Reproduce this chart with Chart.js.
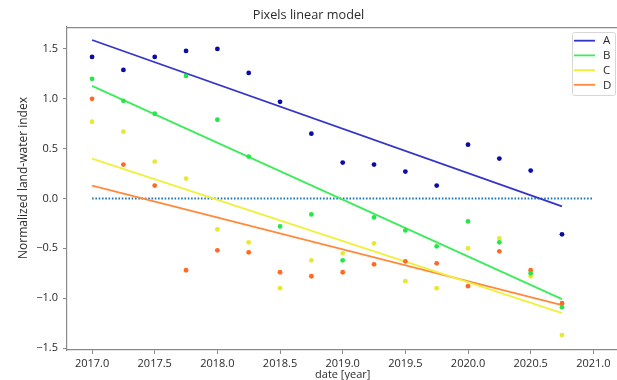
<!DOCTYPE html>
<html>
<head>
<meta charset="utf-8">
<script src="https://cdn.jsdelivr.net/npm/chart.js@4/dist/chart.umd.min.js"></script>
<style>
html,body{margin:0;padding:0;background:#fff;}
#wrap{width:617px;height:380px;}
</style>
</head>
<body>
<div id="wrap"><canvas id="c" width="617" height="380"></canvas></div>
<script>
// ---- data ----
const dates = [2017.0, 2017.25, 2017.5, 2017.75, 2018.0, 2018.25, 2018.5, 2018.75,
               2019.0, 2019.25, 2019.5, 2019.75, 2020.0, 2020.25, 2020.5, 2020.75];
const seriesA = [1.42, 1.29, 1.42, 1.48, 1.50, 1.26, 0.97, 0.65, 0.36, 0.34, 0.27, 0.13, 0.54, 0.40, 0.28, -0.36];
const seriesB = [1.20, 0.98, 0.85, 1.23, 0.79, 0.42, -0.28, -0.16, -0.62, -0.19, -0.32, -0.48, -0.23, -0.44, -0.75, -1.09];
const seriesC = [0.77, 0.67, 0.37, 0.20, -0.31, -0.44, -0.90, -0.62, -0.55, -0.45, -0.83, -0.90, -0.50, -0.40, -0.78, -1.37];
const seriesD = [1.00, 0.34, 0.13, -0.72, -0.52, -0.54, -0.74, -0.78, -0.74, -0.66, -0.63, -0.65, -0.88, -0.53, -0.72, -1.05];
const seriesNames = ['A', 'B', 'C', 'D'];
const fitX = [2017.0, 2020.75];
const fitA = [1.59, -0.08];
const fitB = [1.13, -1.01];
const fitC = [0.40, -1.15];
const fitD = [0.13, -1.07];
const zeroX = [2017.0, 2021.0];
const zeroY = [0, 0];
const xTicks = [2017.0, 2017.5, 2018.0, 2018.5, 2019.0, 2019.5, 2020.0, 2020.5, 2021.0];
const yTicks = [-1.5, -1.0, -0.5, 0.0, 0.5, 1.0, 1.5];
const titleText = 'Pixels linear model';
const xTitle = 'date [year]';
const yTitle = 'Normalized land-water index';

// ---- styles ----
const lineColors = ['#3434c8', '#3cec5a', '#f0f03c', '#ff8a3e'];
const dotColors = ['#0b0ba6', '#26e648', '#e8e830', '#ff6a22'];
const FONT = "'Open Sans', 'DejaVu Sans', sans-serif";
const TXT = '#2a2a2a';
const SPINE = '#8a8a8a';
const PLOT_RIGHT = 618.4;

const pts = (xs, ys) => xs.map((x, i) => ({x: x, y: ys[i]}));
const allSeries = [seriesA, seriesB, seriesC, seriesD];
const allFits = [fitA, fitB, fitC, fitD];

const datasets = [];
allFits.forEach((f, i) => {
  datasets.push({
    type: 'line', label: seriesNames[i], data: pts(fitX, f),
    borderColor: lineColors[i], backgroundColor: lineColors[i],
    borderWidth: 1.8, pointRadius: 0, fill: false, order: 2
  });
});
datasets.push({
  type: 'line', label: 'zero', data: pts(zeroX, zeroY),
  borderColor: '#1f77b4', borderWidth: 2, borderDash: [1.6, 1.7],
  pointRadius: 0, fill: false, order: 3
});
allSeries.forEach((s, i) => {
  datasets.push({
    type: 'scatter', label: seriesNames[i] + ' pts', data: pts(dates, s),
    backgroundColor: dotColors[i], borderColor: dotColors[i],
    borderWidth: 0, pointRadius: 2.4, order: 1
  });
});

const stretchPlugin = {
  id: 'stretch',
  afterLayout(chart) {
    const x = chart.scales.x;
    x.right = PLOT_RIGHT;
    x.width = x.right - x.left;
    x.configure();
    chart.chartArea.right = PLOT_RIGHT;
    chart.chartArea.width = PLOT_RIGHT - chart.chartArea.left;
  }
};

const framePlugin = {
  id: 'frame',
  afterDraw(chart) {
    const ctx = chart.ctx, a = chart.chartArea;
    ctx.save();
    ctx.strokeStyle = SPINE;
    ctx.lineWidth = 1.2;
    ctx.beginPath();
    ctx.moveTo(a.left, a.top + 0.5); ctx.lineTo(a.right, a.top + 0.5);
    ctx.moveTo(a.right - 0.5, a.top); ctx.lineTo(a.right - 0.5, a.bottom);
    ctx.stroke();
    // y axis title
    ctx.fillStyle = TXT;
    ctx.font = '12px ' + FONT;
    ctx.textAlign = 'center';
    ctx.textBaseline = 'middle';
    ctx.translate(24, 178);
    ctx.rotate(-Math.PI / 2);
    ctx.fillText(yTitle, 0, 0);
    ctx.setTransform(1, 0, 0, 1, 0, 0);
    // legend
    const bx = 572, by = 32, bw = 43, bh = 63;
    ctx.fillStyle = 'rgba(255,255,255,0.85)';
    ctx.strokeStyle = '#d6d6d6';
    ctx.lineWidth = 1;
    ctx.beginPath();
    if (ctx.roundRect) ctx.roundRect(bx + 0.5, by + 0.5, bw, bh, 2); else ctx.rect(bx + 0.5, by + 0.5, bw, bh);
    ctx.fill(); ctx.stroke();
    ctx.font = '11.5px ' + FONT;
    ctx.textBaseline = 'middle';
    ctx.textAlign = 'left';
    seriesNames.forEach((n, i) => {
      const y = 40.7 + i * 14.7;
      ctx.strokeStyle = lineColors[i];
      ctx.lineWidth = 1.8;
      ctx.beginPath(); ctx.moveTo(574, y); ctx.lineTo(595, y); ctx.stroke();
      ctx.fillStyle = TXT;
      ctx.fillText(n, 603, y + 0.5);
    });
    ctx.restore();
  }
};

new Chart(document.getElementById('c'), {
  data: {datasets: datasets},
  options: {
    responsive: false,
    animation: false,
    layout: {padding: {left: 0, right: 0, top: 0, bottom: 0}},
    plugins: {
      legend: {display: false},
      tooltip: {enabled: false},
      title: {
        display: true, text: titleText, color: TXT,
        font: {family: FONT, size: 12.7, weight: 'normal', lineHeight: 1.2},
        padding: {top: 7.5, bottom: 4.3}
      }
    },
    scales: {
      x: {
        type: 'linear', min: 2016.8, max: 2021.2,
        afterFit(s) { s.height = 30; s.paddingLeft = 0; s.paddingRight = 0; },
        afterBuildTicks(s) { s.ticks = xTicks.map(v => ({value: v})); },
        ticks: {
          color: TXT, font: {family: FONT, size: 11}, padding: 3,
          maxRotation: 0, autoSkip: false,
          callback: v => Number(v).toFixed(1)
        },
        grid: {drawOnChartArea: false, drawTicks: true, tickLength: 4, color: SPINE, lineWidth: 1},
        border: {display: true, color: SPINE, width: 1.2},
        title: {
          display: true, text: xTitle, color: TXT,
          font: {family: FONT, size: 11, lineHeight: 1.2},
          padding: {top: 0, bottom: -1.6}
        }
      },
      y: {
        type: 'linear', min: -1.52, max: 1.72,
        afterFit(s) { s.width = 67; s.paddingTop = 0; s.paddingBottom = 0; },
        afterBuildTicks(s) { s.ticks = yTicks.map(v => ({value: v})); },
        ticks: {
          color: TXT, font: {family: FONT, size: 11}, padding: 5,
          autoSkip: false,
          callback: v => { const t = Math.abs(v).toFixed(1); return v < -1e-9 ? '\u2212' + t : t; }
        },
        grid: {drawOnChartArea: false, drawTicks: true, tickLength: 4, color: SPINE, lineWidth: 1},
        border: {display: true, color: SPINE, width: 1.2},
        title: {display: false}
      }
    }
  },
  plugins: [stretchPlugin, framePlugin]
});
</script>
</body>
</html>
